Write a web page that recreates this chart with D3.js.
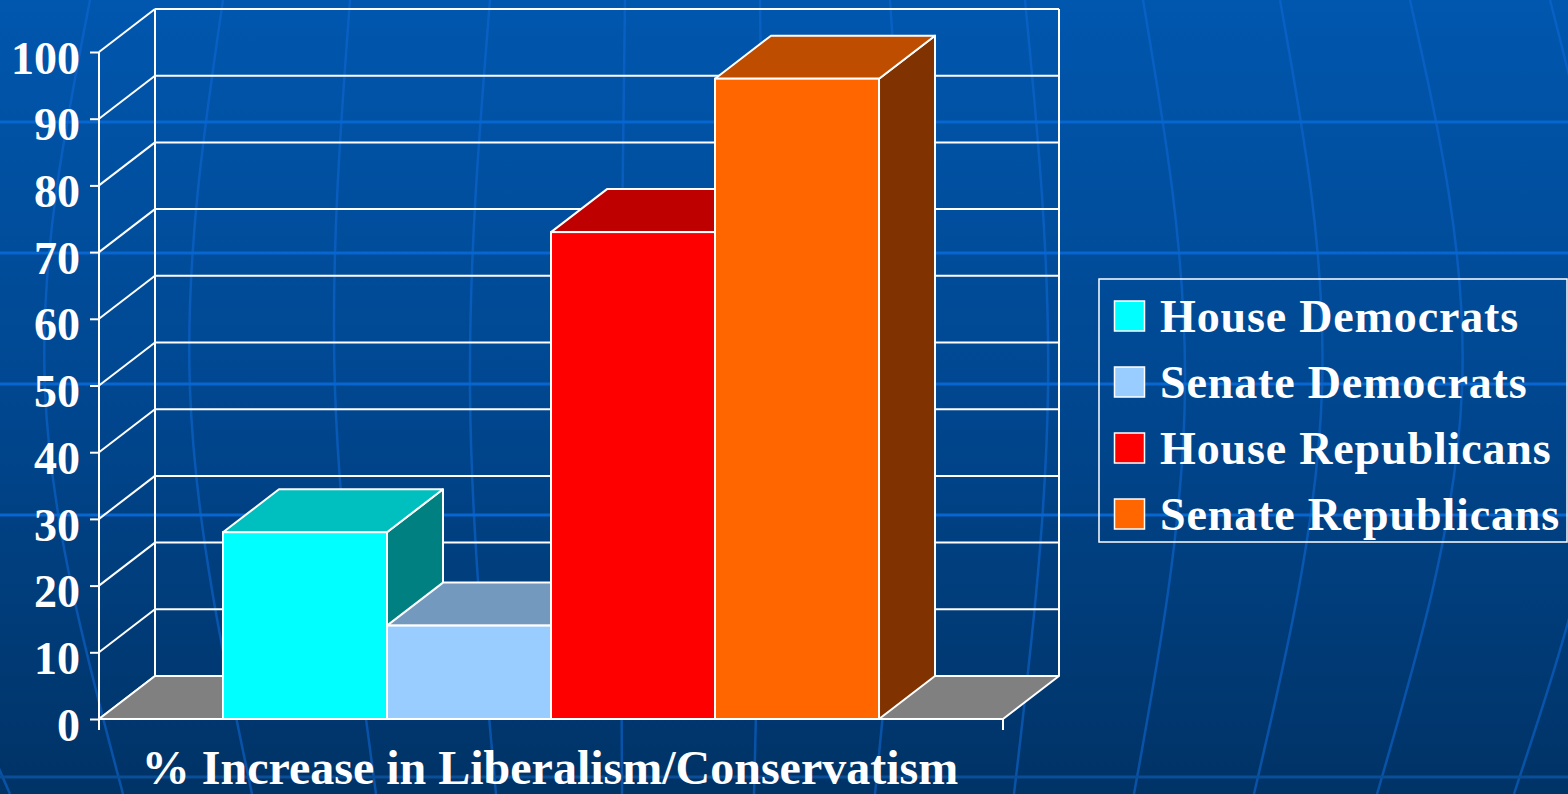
<!DOCTYPE html>
<html>
<head>
<meta charset="utf-8">
<script src="https://cdn.jsdelivr.net/npm/d3@7"></script>
<style>
  html, body { margin: 0; padding: 0; background: #003366; }
  svg { display: block; }
</style>
</head>
<body>
<svg id="chart" width="1568" height="794"></svg>
<script>
// ---- data ----
const category = "% Increase in Liberalism/Conservatism";
const seriesNames = ["House Democrats", "Senate Democrats", "House Republicans", "Senate Republicans"];
const seriesValues = [28, 14, 73, 96];
const seriesColors = ["#00FFFF", "#99CCFF", "#FF0000", "#FF6600"];
const yTicks = [0, 10, 20, 30, 40, 50, 60, 70, 80, 90, 100];

// decorative globe lines behind the plot: x at top, equator, bottom
const meridians = [
  [-60, -120, 10], [90, 45, 123], [223, 190, 252], [350, 335, 376],
  [490, 470, 496], [625, 620, 622], [760, 762, 754], [890, 905, 875],
  [1025, 1048, 1014], [1143, 1185, 1134], [1280, 1322, 1254],
  [1410, 1462, 1377], [1550, 1610, 1514]
];
const parallels = [122, 253, 384, 515];

// ---- layout ----
const W = 1568, H = 794;
const left = 99, right = 1003, yTop = 52, yBase = 719;
const DX = 56, DY = -43;           // depth offset of the 3D box
const serif = "'Liberation Serif', 'Times New Roman', serif";

const svg = d3.select("#chart");

// background gradient
const defs = svg.append("defs");
const grad = defs.append("linearGradient").attr("id", "bg")
  .attr("x1", 0).attr("y1", 0).attr("x2", 0).attr("y2", 1);
grad.append("stop").attr("offset", "0%").attr("stop-color", "#0057AE");
grad.append("stop").attr("offset", "50%").attr("stop-color", "#004790");
grad.append("stop").attr("offset", "100%").attr("stop-color", "#003366");
svg.append("rect").attr("width", W).attr("height", H).attr("fill", "url(#bg)");

const deco = svg.append("g");
const merLine = d3.line().curve(d3.curveNatural);
meridians.forEach(m => {
  deco.append("path")
    .attr("d", merLine([[m[0], 0], [m[1], 390], [m[2], H]]))
    .attr("fill", "none").attr("stroke", "#0E68D2").attr("stroke-opacity", 0.6)
    .attr("stroke-width", 2.5);
});
parallels.forEach(py => {
  deco.append("line").attr("x1", 0).attr("x2", W).attr("y1", py).attr("y2", py)
    .attr("stroke", "#0866D0").attr("stroke-width", 3);
});
deco.append("line").attr("x1", 0).attr("x2", W).attr("y1", 777).attr("y2", 777)
  .attr("stroke", "#0B4E98").attr("stroke-width", 3);

// ---- scales ----
const y = d3.scaleLinear().domain([0, 100]).range([yBase, yTop]);
const x0 = d3.scaleBand().domain([category]).range([left, right])
  .paddingInner(0).paddingOuter(0.189);
const x1 = d3.scaleBand().domain(seriesNames).range([0, x0.bandwidth()]).padding(0);

const white = "#FFFFFF";
const plot = svg.append("g");

// back wall and left wall grid
yTicks.forEach(t => {
  plot.append("line")
    .attr("x1", left + DX).attr("x2", right + DX)
    .attr("y1", y(t) + DY).attr("y2", y(t) + DY)
    .attr("stroke", white).attr("stroke-width", 2);
  plot.append("line")
    .attr("x1", left).attr("y1", y(t))
    .attr("x2", left + DX).attr("y2", y(t) + DY)
    .attr("stroke", white).attr("stroke-width", 2);
});
plot.append("line").attr("x1", left + DX).attr("x2", left + DX)
  .attr("y1", y(100) + DY).attr("y2", y(0) + DY).attr("stroke", white).attr("stroke-width", 2);
plot.append("line").attr("x1", right + DX).attr("x2", right + DX)
  .attr("y1", y(100) + DY).attr("y2", y(0) + DY).attr("stroke", white).attr("stroke-width", 2);

// floor
plot.append("path")
  .attr("d", d3.line()([[left, y(0)], [right, y(0)], [right + DX, y(0) + DY], [left + DX, y(0) + DY]]) + "Z")
  .attr("fill", "#808080").attr("stroke", white).attr("stroke-width", 2).attr("stroke-linejoin", "round");

// bars, drawn left to right so nearer faces overlap
function shade(c, k) {
  const r = d3.rgb(c);
  return d3.rgb(r.r * k, r.g * k, r.b * k).formatHex();
}
const bars = plot.append("g");
seriesNames.forEach((name, i) => {
  const v = seriesValues[i];
  const xa = x0(category) + x1(name);
  const xb = xa + x1.bandwidth();
  const yt = y(v), yb = y(0);
  const g = bars.append("g");
  const poly = pts => d3.line()(pts) + "Z";
  // side face
  g.append("path").attr("d", poly([[xb, yt], [xb + DX, yt + DY], [xb + DX, yb + DY], [xb, yb]]))
    .attr("fill", shade(seriesColors[i], 0.5)).attr("stroke", white).attr("stroke-width", 2).attr("stroke-linejoin", "round");
  // top face
  g.append("path").attr("d", poly([[xa, yt], [xb, yt], [xb + DX, yt + DY], [xa + DX, yt + DY]]))
    .attr("fill", shade(seriesColors[i], 0.75)).attr("stroke", white).attr("stroke-width", 2).attr("stroke-linejoin", "round");
  // front face
  g.append("rect").attr("x", xa).attr("y", yt).attr("width", xb - xa).attr("height", yb - yt)
    .attr("fill", seriesColors[i]).attr("stroke", white).attr("stroke-width", 2);
});

// front axes
const axisG = svg.append("g");
axisG.append("line").attr("x1", left).attr("x2", left).attr("y1", y(100)).attr("y2", y(0) + 11)
  .attr("stroke", white).attr("stroke-width", 2);
axisG.append("line").attr("x1", left).attr("x2", right).attr("y1", y(0)).attr("y2", y(0))
  .attr("stroke", white).attr("stroke-width", 2);
axisG.append("line").attr("x1", right).attr("x2", right).attr("y1", y(0)).attr("y2", y(0) + 11)
  .attr("stroke", white).attr("stroke-width", 2);

const yAxis = d3.axisLeft(y).tickValues(yTicks).tickSize(9).tickPadding(10).tickFormat(d3.format("d"));
const yg = svg.append("g").attr("transform", `translate(${left},0)`).call(yAxis);
yg.select(".domain").remove();
yg.selectAll(".tick line").attr("stroke", white).attr("stroke-width", 2);
yg.selectAll(".tick text")
  .attr("fill", white)
  .attr("font-family", serif)
  .attr("font-weight", "bold")
  .attr("font-size", 46)
  .attr("dy", "0.46em");

// category label
svg.append("text")
  .attr("x", x0(category) + x0.bandwidth() / 2 - 1)
  .attr("y", 784)
  .attr("text-anchor", "middle")
  .attr("fill", white)
  .attr("font-family", serif)
  .attr("font-weight", "bold")
  .attr("font-size", 48)
  .text(category);

// legend
const legend = svg.append("g");
legend.append("rect").attr("x", 1099).attr("y", 279).attr("width", 468).attr("height", 263)
  .attr("fill", "none").attr("stroke", white).attr("stroke-width", 1.5);
const rowY = d3.scalePoint().domain(seriesNames).range([301, 499]);
seriesNames.forEach((name, i) => {
  legend.append("rect").attr("x", 1114.5).attr("y", rowY(name)).attr("width", 30).attr("height", 30)
    .attr("fill", seriesColors[i]).attr("stroke", white).attr("stroke-width", 1.5);
  legend.append("text").attr("x", 1160).attr("y", rowY(name) + 31)
    .attr("fill", white)
    .attr("font-family", serif)
    .attr("font-weight", "bold")
    .attr("font-size", 46)
    .attr("letter-spacing", "0.85px")
    .text(name);
});
</script>
</body>
</html>
